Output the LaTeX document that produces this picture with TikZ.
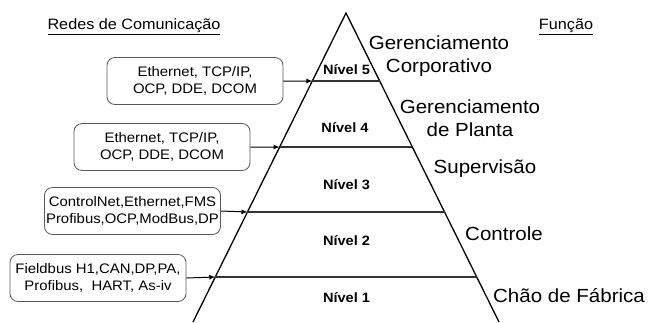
\documentclass[tikz,border=0pt]{standalone}
\usepackage{fontspec}
\setmainfont[FakeStretch=1.08]{Liberation Sans}
\usetikzlibrary{arrows.meta,calc}
\begin{document}
\begin{tikzpicture}[x=1pt,y=-1pt,
 netbox/.style={draw=black!65, line width=0.8pt, rounded corners=8pt, minimum width=176pt, minimum height=47pt, align=center, inner sep=0pt, font=\fontsize{13.8}{16.5}\selectfont},
 lvl/.style={font=\bfseries\fontsize{13.5}{15}\selectfont},
 func/.style={align=center, font=\fontsize{19}{23}\selectfont},
 head/.style={font=\fontsize{15}{18}\selectfont},
 pedge/.style={line width=1.3pt},
 lvline/.style={line width=1.8pt, draw=black!80},
 conn/.style={line width=1pt, -{Latex[length=6pt,width=5pt]}}]
\useasboundingbox (0,0) rectangle (648,322);

% pyramid
\coordinate (apex) at (346,13);
\coordinate (bl) at (193,322);
\coordinate (br) at (499,322);
\draw[pedge] (bl) -- (apex) -- (br);

% level lines
\foreach \t/\n in {0.2201/5,0.4337/4,0.6440/3,0.8544/2}{
  \coordinate (L\n) at ($(apex)!\t!(bl)$);
  \coordinate (R\n) at ($(apex)!\t!(br)$);
  \draw[lvline] (L\n) -- (R\n);
}

% level labels
\node[lvl] (n5) at (346.5,70) {Nível 5};
\node[lvl] (n4) at (345,128) {Nível 4};
\node[lvl] (n3) at (346.5,185) {Nível 3};
\node[lvl] (n2) at (346.5,241) {Nível 2};
\node[lvl] (n1) at (346.5,298) {Nível 1};

% headers
\node[head] (hredes) at (134,27) {\underline{Redes de Comunicação}};
\node[head] (hfunc) at (566,27) {\underline{Função}};

% function labels
\node[func] (f5) at (439,56) {Gerenciamento\\Corporativo};
\node[func] (f4) at (470,118) {Gerenciamento\\de Planta};
\node[func] (f3) at (485,169) {Supervisão};
\node[func] (f2) at (504,234) {Controle};
\node[func] (f1) at (569,296) {Chão de Fábrica};

% network boxes
\node[netbox] (b5) at (195,81) {Ethernet, TCP/IP,\\OCP, DDE, DCOM};
\node[netbox] (b4) at (162,147) {Ethernet, TCP/IP,\\OCP, DDE, DCOM};
\node[netbox] (b3) at (132.5,211) {ControlNet,Ethernet,FMS\\Profibus,OCP,ModBus,DP};
\node[netbox] (b2) at (98,278) {Fieldbus H1,CAN,DP,PA,\\Profibus,\ \ HART, As-iv};

% connectors
\draw[conn] (b5.east) -- (L5);
\draw[conn] (b4.east) -- (L4);
\draw[conn] (b3.east) -- (L3);
\draw[conn] (b2.east) -- (L2);
\end{tikzpicture}
\end{document}
